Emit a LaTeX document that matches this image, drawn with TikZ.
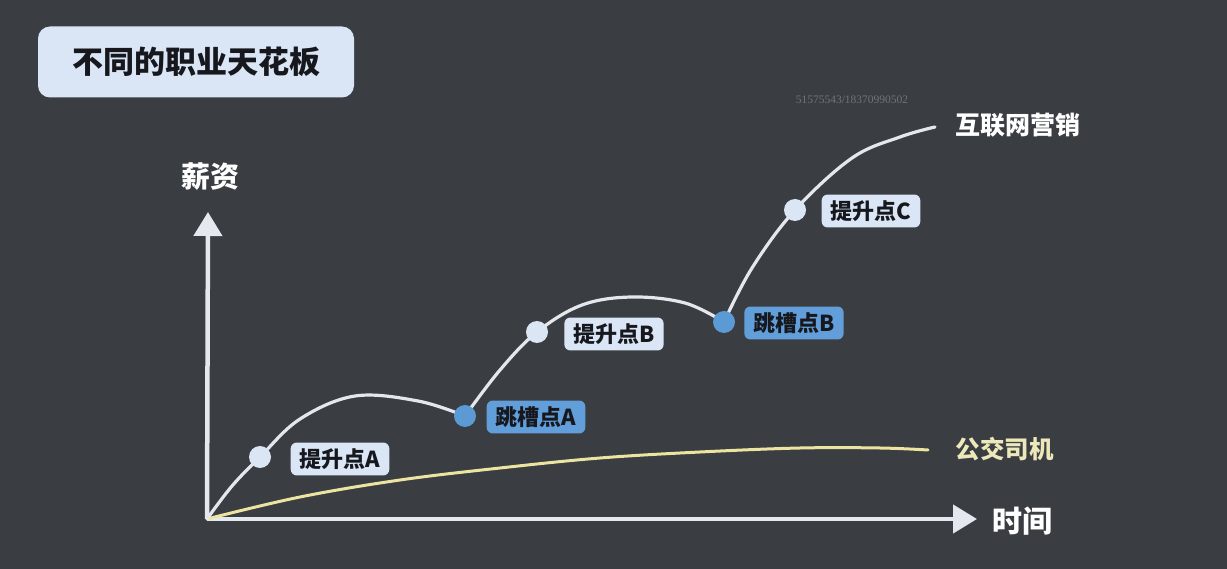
\documentclass[tikz,border=0pt]{standalone}
\usepackage{fontspec}
\newfontfamily\cjk{Noto Sans CJK SC}
\newfontfamily\wmfont{Liberation Serif}
\usetikzlibrary{arrows.meta}
\definecolor{board}{RGB}{58,61,66}
\definecolor{chalk}{RGB}{228,232,238}
\definecolor{chalkyel}{RGB}{236,228,160}
\definecolor{lightbox}{RGB}{218,230,246}
\definecolor{bluebox}{RGB}{98,158,218}
\definecolor{bluedot}{RGB}{92,154,214}
\definecolor{lightdot}{RGB}{218,230,244}
\definecolor{inkdark}{RGB}{22,24,30}
\definecolor{yeltext}{RGB}{236,232,186}
\definecolor{wmark}{RGB}{112,116,122}
\tikzset{
  lbox/.style={draw=none, fill=lightbox, rounded corners=6pt, inner xsep=9pt, inner ysep=6pt, text=inkdark, font=\cjk\bfseries\fontsize{22}{25}\selectfont},
  bbox/.style={lbox, fill=bluebox},
  ldot/.style={circle, fill=lightdot, minimum size=22pt, inner sep=0pt},
  bdot/.style={circle, fill=bluedot, minimum size=22pt, inner sep=0pt},
  chalkline/.style={draw=chalk, line width=3.2pt, line cap=round},
  yelline/.style={draw=chalkyel, line width=3pt, line cap=round},
  axis/.style={draw=chalk!95!white, line width=4.5pt, -{Triangle[length=24pt,width=28pt]}},
  bigtext/.style={text=white, font=\cjk\bfseries\fontsize{25}{28}\selectfont},
}
\begin{document}
\begin{tikzpicture}[x=1pt,y=-1pt]
\useasboundingbox (0,0) rectangle (1227,569);
\fill[board] (0,0) rectangle (1227,569);

% title
\node[fill=lightbox, rounded corners=12pt, minimum width=316pt, minimum height=71pt, text=inkdark, font=\cjk\bfseries\fontsize{31}{34}\selectfont] (title) at (196,62) {不同的职业天花板};

% watermark
\node[text=wmark, font=\wmfont\fontsize{11.5}{12}\selectfont] (wm) at (852,100) {51575543/18370990502};

% axes
\coordinate (O) at (207,519);
\coordinate (ytop) at (208,212);
\coordinate (xend) at (977,519);
\draw[axis] (O) -- (ytop);
\draw[axis] (O) -- (xend);
\node[bigtext, font=\cjk\bfseries\fontsize{29}{32}\selectfont] (ylab) at (210,177) {薪资};
\node[bigtext, font=\cjk\bfseries\fontsize{30}{33}\selectfont] (xlab) at (1022,521) {时间};

% curve coordinates
\coordinate (pAc) at (260,457);
\coordinate (k1) at (300,419);
\coordinate (k2) at (355,396);
\coordinate (k3) at (418,401);
\coordinate (jAc) at (465,416);
\coordinate (pBc) at (537,332);
\coordinate (k4) at (582,305);
\coordinate (k5) at (632,297);
\coordinate (k6) at (685,303);
\coordinate (jBc) at (724,322);
\coordinate (pCc) at (795,210);
\coordinate (k7) at (852,158);
\coordinate (k8) at (900,137);
\coordinate (wend) at (935,127);

% yellow curve
\draw[yelline] plot[smooth, tension=0.6] coordinates {(O) (300,497) (400,480) (500,468) (600,458) (700,452) (800,448) (880,448) (928,450)};

% white curve
\draw[chalkline] plot[smooth, tension=0.6] coordinates {(O) (232,486) (pAc) (k1) (k2) (k3) (jAc)};
\draw[chalkline] plot[smooth, tension=0.6] coordinates {(jAc) (500,370) (pBc) (k4) (k5) (k6) (jBc)};
\draw[chalkline] plot[smooth, tension=0.6] coordinates {(jBc) (752,268) (pCc) (k7) (k8) (wend)};

% dots
\node[ldot] (pA) at (pAc) {};
\node[bdot] (jA) at (jAc) {};
\node[ldot] (pB) at (pBc) {};
\node[bdot] (jB) at (jBc) {};
\node[ldot] (pC) at (pCc) {};

% labels
\node[lbox] (lpA) at (340,459) {提升点A};
\node[bbox] (ljA) at (536,417) {跳槽点A};
\node[lbox] (lpB) at (614,334) {提升点B};
\node[bbox] (ljB) at (794,323) {跳槽点B};
\node[lbox] (lpC) at (871,211) {提升点C};

% curve labels
\node[bigtext, anchor=west] (net) at (952,125) {互联网营销};
\node[bigtext, text=yeltext, anchor=west, font=\cjk\bfseries\fontsize{24.5}{27}\selectfont] (bus) at (952,449) {公交司机};
\end{tikzpicture}
\end{document}
